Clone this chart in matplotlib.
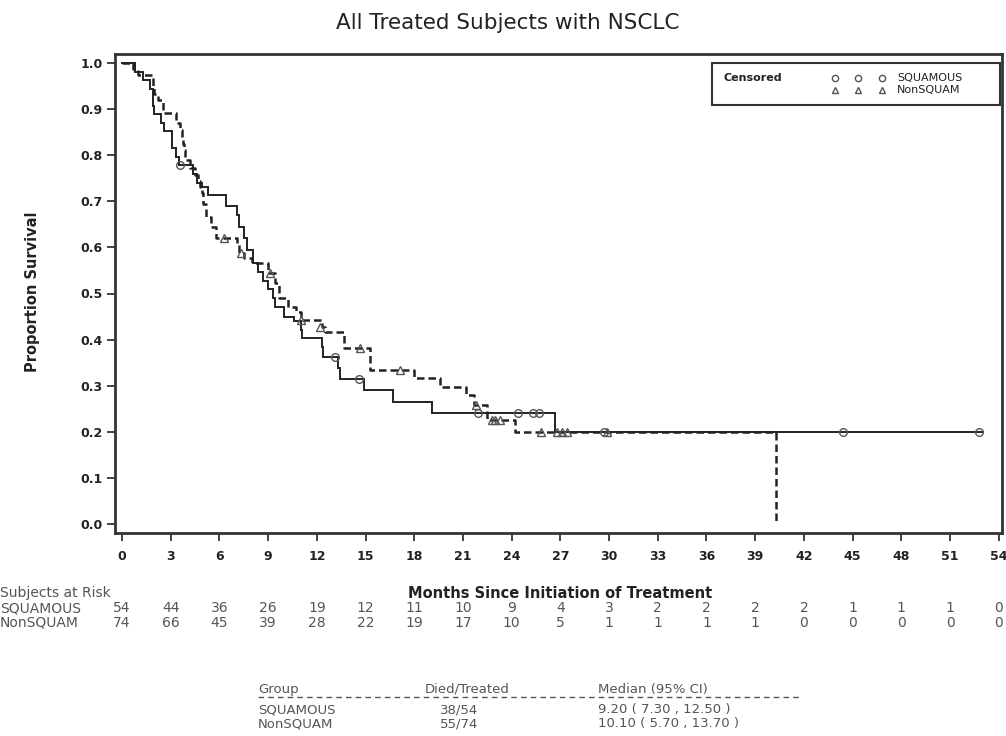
import matplotlib
matplotlib.use("Agg")
import matplotlib.pyplot as plt
import matplotlib.transforms as mtransforms
from matplotlib.patches import Rectangle

# ---------------- data ----------------
title = "All Treated Subjects with NSCLC"
xlabel = "Months Since Initiation of Treatment"
ylabel = "Proportion Survival"
groups = ["SQUAMOUS", "NonSQUAM"]

sq_time = [0, 0.8, 1.3, 1.7, 1.9, 2.0, 2.4, 2.6, 3.1, 3.3, 3.5, 4.4, 4.6, 4.9, 5.3,
           6.4, 7.1, 7.2, 7.5, 7.7, 8.1, 8.4, 8.7, 9.0, 9.3, 9.4, 10.0, 10.6, 11.0,
           11.1, 12.3, 12.4, 13.3, 13.4, 14.9, 16.7, 19.1, 26.7, 53.0]
sq_surv = [1.0, 0.981, 0.962, 0.944, 0.907, 0.889, 0.870, 0.852, 0.815, 0.796, 0.778,
           0.758, 0.739, 0.730, 0.713, 0.690, 0.670, 0.645, 0.620, 0.594, 0.566, 0.547,
           0.528, 0.509, 0.490, 0.470, 0.450, 0.440, 0.420, 0.403, 0.383, 0.362, 0.339,
           0.315, 0.291, 0.265, 0.241, 0.200, 0.200]
sq_cens_t = [3.6, 13.1, 14.6, 21.9, 24.4, 25.3, 25.7, 29.7, 44.4, 52.8]
sq_cens_s = [0.778, 0.362, 0.315, 0.241, 0.241, 0.241, 0.241, 0.200, 0.200, 0.200]

ns_time = [0, 0.7, 1.0, 1.9, 2.0, 2.2, 2.5, 3.3, 3.6, 3.7, 3.75, 3.8, 3.9, 4.2, 4.5,
           4.7, 4.8, 4.9, 5.0, 5.2, 5.5, 5.8, 7.1, 7.2, 7.5, 8.0, 9.0, 9.4, 9.7, 10.2,
           10.7, 11.0, 12.3, 12.5, 13.7, 15.3, 18.0, 19.6, 21.2, 21.7, 22.5, 24.2, 40.3]
ns_surv = [1.0, 0.986, 0.973, 0.946, 0.932, 0.919, 0.892, 0.870, 0.854, 0.838, 0.824,
           0.810, 0.790, 0.772, 0.757, 0.743, 0.730, 0.717, 0.695, 0.666, 0.645, 0.620,
           0.606, 0.588, 0.577, 0.566, 0.545, 0.523, 0.490, 0.470, 0.460, 0.442, 0.427,
           0.417, 0.382, 0.334, 0.317, 0.298, 0.280, 0.258, 0.226, 0.200, 0.0]
ns_cens_t = [6.3, 7.3, 9.1, 11.0, 12.2, 14.65, 17.1, 21.8, 22.8, 23.0, 23.3, 25.8, 26.8,
             27.1, 27.4, 29.9]
ns_cens_s = [0.620, 0.588, 0.545, 0.442, 0.427, 0.382, 0.334, 0.258, 0.226, 0.226, 0.226,
             0.200, 0.200, 0.200, 0.200, 0.200]

risk_times = [0, 3, 6, 9, 12, 15, 18, 21, 24, 27, 30, 33, 36, 39, 42, 45, 48, 51, 54]
sq_risk = [54, 44, 36, 26, 19, 12, 11, 10, 9, 4, 3, 2, 2, 2, 2, 1, 1, 1, 0]
ns_risk = [74, 66, 45, 39, 28, 22, 19, 17, 10, 5, 1, 1, 1, 1, 0, 0, 0, 0, 0]

x_ticks = list(range(0, 55, 3))
y_ticks = [0.0, 0.1, 0.2, 0.3, 0.4, 0.5, 0.6, 0.7, 0.8, 0.9, 1.0]

summary_header = ["Group", "Died/Treated", "Median (95% CI)"]
summary_died = ["38/54", "55/74"]
summary_median = ["9.20 ( 7.30 , 12.50 )", "10.10 ( 5.70 , 13.70 )"]

# ---------------- figure ----------------
W, H = 1006, 736
fig = plt.figure(figsize=(W / 100, H / 100), dpi=100)
fig.patch.set_facecolor("white")

def fx(px):
    return px / W

def fy(py):
    return 1 - py / H

ax = fig.add_axes([fx(115), fy(533), fx(1002) - fx(115), fy(54) - fy(533)])
ax.set_xlim(-0.43, 54.2)
ax.set_ylim(-0.019, 1.019)

ink = "#222222"
ax.step(sq_time, sq_surv, where="post", color=ink, lw=1.4, solid_joinstyle="miter")
ax.step(ns_time, ns_surv, where="post", color=ink, lw=1.8, linestyle=(0, (3.0, 1.6)))
ax.plot(sq_cens_t, sq_cens_s, linestyle="none", marker="o", ms=5.5, mfc="none",
        mec="#555555", mew=1.0)
ax.plot(ns_cens_t, ns_cens_s, linestyle="none", marker="^", ms=5.5, mfc="none",
        mec="#555555", mew=1.0)

ax.set_xticks(x_ticks)
ax.set_xticklabels([str(v) for v in x_ticks], fontsize=9, fontweight="bold", color=ink)
ax.set_yticks(y_ticks)
ax.set_yticklabels([f"{v:.1f}" for v in y_ticks], fontsize=9, fontweight="bold", color=ink)
ax.tick_params(direction="out", length=6, width=1.2, colors=ink)
ax.tick_params(axis="y", pad=3)
ax.tick_params(axis="x", pad=6)
for s in ax.spines.values():
    s.set_linewidth(2.0)
    s.set_color("#333333")

fig.text(fx(508), fy(23), title, ha="center", va="center", fontsize=15.5, color=ink)
fig.text(fx(33), fy(292), ylabel, ha="center", va="center", rotation=90,
         fontsize=10.5, fontweight="bold", color=ink)
fig.text(fx(560), fy(593), xlabel, ha="center", va="center", fontsize=10.5,
         fontweight="bold", color=ink)

# legend box
lg = Rectangle((fx(712), fy(105)), fx(1000) - fx(712), fy(63) - fy(105),
               transform=fig.transFigure, fill=False, lw=1.5, ec="#333333")
fig.add_artist(lg)
fig.text(fx(724), fy(78), "Censored", ha="left", va="center", fontsize=8,
         fontweight="bold", color=ink)
for xm in (835, 858, 882):
    fig.lines.append(plt.Line2D([fx(xm)], [fy(78)], transform=fig.transFigure,
                                marker="o", ms=4.5, mfc="none", mec="#555555", mew=1.0))
    fig.lines.append(plt.Line2D([fx(xm)], [fy(90)], transform=fig.transFigure,
                                marker="^", ms=4.5, mfc="none", mec="#555555", mew=1.0))
fig.text(fx(897), fy(78), groups[0], ha="left", va="center", fontsize=8, color=ink)
fig.text(fx(897), fy(90), groups[1], ha="left", va="center", fontsize=8, color=ink)

# risk table
gray = "#555555"
fig.text(fx(0), fy(593), "Subjects at Risk", ha="left", va="center", fontsize=10, color=gray)
fig.text(fx(0), fy(608), groups[0], ha="left", va="center", fontsize=10, color=gray)
fig.text(fx(0), fy(623), groups[1], ha="left", va="center", fontsize=10, color=gray)
trans = mtransforms.blended_transform_factory(ax.transData, fig.transFigure)
for t, a, b in zip(risk_times, sq_risk, ns_risk):
    ax.text(t, fy(608), str(a), transform=trans, ha="center", va="center",
            fontsize=10, color=gray, clip_on=False)
    ax.text(t, fy(623), str(b), transform=trans, ha="center", va="center",
            fontsize=10, color=gray, clip_on=False)

# summary table
col_x = [258, 425, 598]
for cx, h in zip(col_x, summary_header):
    fig.text(fx(cx), fy(689), h, ha="left", va="center", fontsize=9.5, color=gray)
fig.lines.append(plt.Line2D([fx(258), fx(800)], [fy(697), fy(697)],
                            transform=fig.transFigure, color=gray, lw=1.0,
                            linestyle=(0, (4, 3))))
for i, g in enumerate(groups):
    yy = 710 + i * 14
    fig.text(fx(258), fy(yy), g, ha="left", va="center", fontsize=9.5, color=gray)
    fig.text(fx(440), fy(yy), summary_died[i], ha="left", va="center", fontsize=9.5, color=gray)
    fig.text(fx(598), fy(yy), summary_median[i], ha="left", va="center", fontsize=9.5, color=gray)

fig.savefig("out.png", dpi=100)
